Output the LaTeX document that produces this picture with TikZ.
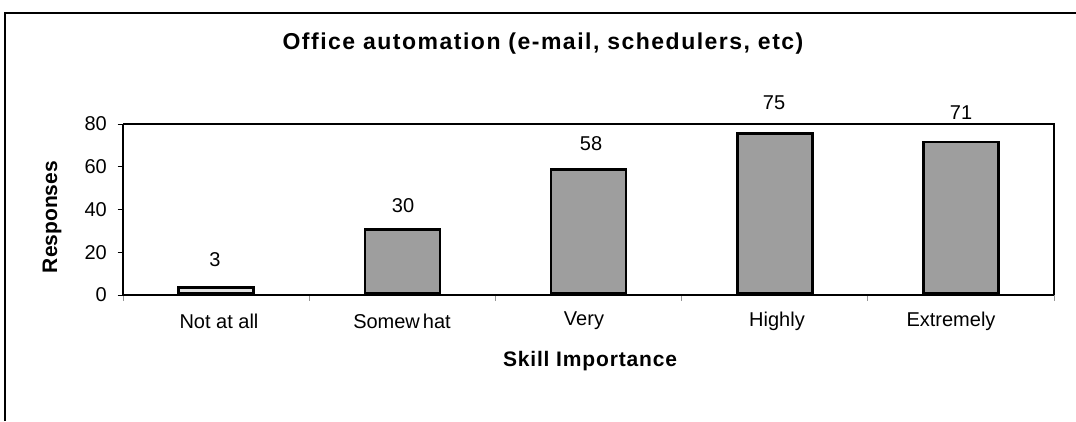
\documentclass[tikz,border=0pt]{standalone}
\usepackage{fontspec}
\setmainfont{Liberation Sans}
\definecolor{barfill}{RGB}{158,158,158}
\definecolor{thinfill}{RGB}{225,225,225}
\definecolor{faint}{RGB}{150,150,150}
\begin{document}
\begin{tikzpicture}[x=1pt,y=-1pt,
  bar/.style={draw=black, line width=2.6pt, fill=barfill, inner sep=0pt, anchor=south, minimum width=75pt},
  frameline/.style={line width=2pt, black},
  axisline/.style={line width=2pt, black},
  plotline/.style={line width=1.5pt, black},
  charttitle/.style={font=\bfseries\fontsize{23}{26}\selectfont\addfontfeature{LetterSpace=6.5}, inner sep=0pt},
  axistitle/.style={font=\bfseries\fontsize{21}{24}\selectfont, inner sep=0pt},
  ticklabel/.style={font=\fontsize{20}{23}\selectfont, inner sep=0pt, anchor=east},
  catlabel/.style={font=\fontsize{20}{23}\selectfont, inner sep=0pt},
  vallabel/.style={font=\fontsize{20}{23}\selectfont, inner sep=0pt},
  tickmark/.style={line width=1pt, black},
  cattick/.style={line width=0.8pt, faint}
]
\useasboundingbox (0,0) rectangle (1076,421);
% outer frame
\coordinate (fbl) at (5,421);
\coordinate (ftl) at (5,13);
\coordinate (ftr) at (1076,13);
\draw[frameline] (fbl) -- (ftl) -- (ftr);
% title
\node[charttitle] (title) at (543,44) {Office automation (e-mail, schedulers, etc)};
% plot area
\coordinate (p0) at (123,295);
\coordinate (ptl) at (123,124);
\coordinate (ptr) at (1054,124);
\coordinate (pbr) at (1054,295);
\draw[plotline] (ptl) -- (ptr) -- (pbr);
% category ticks
\foreach \i/\xx in {0/123,1/309.2,2/495.4,3/681.6,4/867.8,5/1054}{
  \coordinate (ct\i) at (\xx,295);
  \coordinate (cb\i) at (\xx,301);
  \draw[cattick] (ct\i) -- (cb\i);
}
% y ticks and labels
\foreach \v/\yy in {0/295,20/252.25,40/209.5,60/166.75,80/124}{
  \coordinate (tl\v) at (117.5,\yy);
  \coordinate (tr\v) at (123,\yy);
  \draw[tickmark] (tl\v) -- (tr\v);
  \node[ticklabel] (yl\v) at (107,\yy) {\v};
}
% bars (1 unit = 2.1375pt)
\node[bar, fill=thinfill, minimum height=6.4pt] (b1) at (216.1,295) {};
\node[bar, minimum height=64.1pt] (b2) at (402.3,295) {};
\node[bar, minimum height=124pt] (b3) at (588.5,295) {};
\node[bar, minimum height=160.3pt] (b4) at (774.7,295) {};
\node[bar, minimum height=151.8pt] (b5) at (960.9,295) {};
% axes
\draw[axisline] (ptl) -- (p0) -- (pbr);
% value labels
\node[vallabel] (v1) at (215,260) {3};
\node[vallabel] (v2) at (403,206) {30};
\node[vallabel] (v3) at (591,144) {58};
\node[vallabel] (v4) at (774,103) {75};
\node[vallabel] (v5) at (961,113) {71};
% category labels
\node[catlabel] (c1) at (219,321) {Not at all};
\node[catlabel] (c2) at (402,321) {Somew\kern3pt hat};
\node[catlabel] (c3) at (584,321) {Very};
\node[catlabel] (c4) at (777,321) {Highly};
\node[catlabel] (c5) at (951,321) {Extremely};
% axis titles
\node[axistitle, font=\bfseries\fontsize{21}{24}\selectfont\addfontfeature{LetterSpace=4}] (xt) at (590,361) {Skill Importance};
\node[axistitle, rotate=90] (yt) at (52,217) {Responses};
\end{tikzpicture}
\end{document}
